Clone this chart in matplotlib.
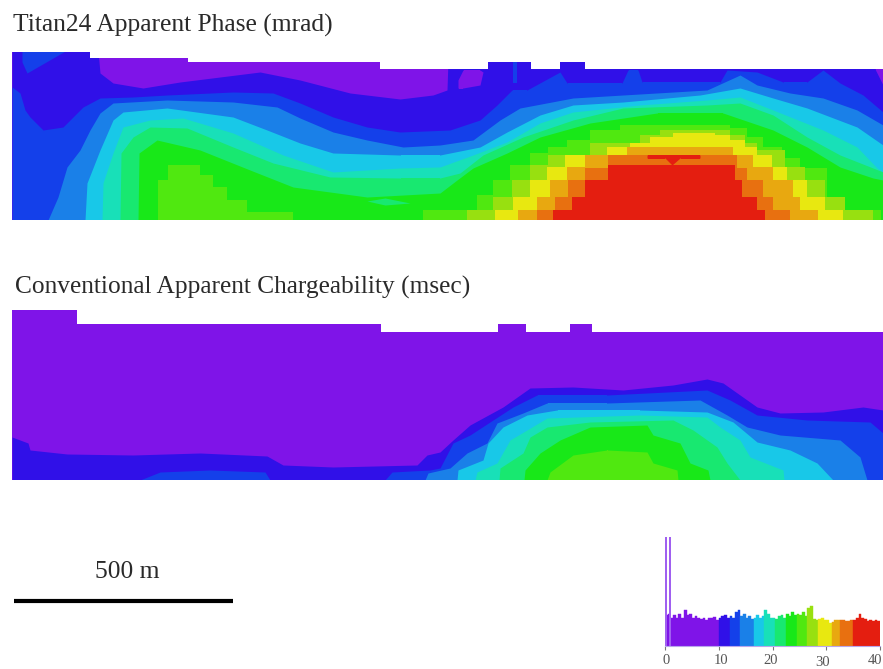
import numpy as np
import matplotlib
matplotlib.use('Agg')
import matplotlib.pyplot as plt
from matplotlib.patches import Polygon

# Colour classes, low to high (same order as the histogram)
class_colors = ['#7f14e8', '#3010e8', '#1440ea', '#1a80e8', '#18c8e8', '#18e0b8', '#18e870',
                '#18e818', '#50e810', '#98e010', '#e8e810', '#e8a810', '#e87010', '#e41e10']

# Survey outlines (pixel scale of the section, y down)
phase_edge_x = [12, 90, 188, 380, 488, 531, 560, 585, 883]
phase_edge_y = [52, 58, 62, 69, 62, 69, 62, 69]
phase_bottom = 220
charge_edge_x = [12, 77, 381, 498, 526, 570, 592, 883]
charge_edge_y = [310, 324, 332, 324, 332, 324, 332]
charge_bottom = 480

# Titan24 phase: top of each class along the line
phase_x1 = [12, 97, 100, 113, 143, 180, 220, 260, 300, 350, 400, 433, 447, 448, 883]
phase_y1 = [40, 40, 73, 83, 88, 82, 77, 72, 80, 93, 99, 95, 90, 60, 60]
phase_x2 = [12, 20, 25, 30, 43, 63, 83, 100, 133, 167, 233, 273, 300, 333, 367, 400, 450, 480, 497, 512, 527, 560, 567, 622, 628, 638, 642, 720, 727, 757, 783, 807, 823, 840, 863, 883]
phase_y2 = [87, 93, 110, 117, 130, 127, 107, 98, 97, 95, 92, 93, 103, 117, 127, 132, 130, 120, 105, 90, 90, 72, 83, 83, 70, 70, 82, 82, 70, 72, 82, 82, 70, 83, 95, 112]
phase_x3 = [12, 48, 58, 67, 80, 90, 100, 113, 167, 233, 277, 300, 333, 367, 403, 440, 473, 500, 520, 573, 623, 707, 740, 757, 790, 823, 857, 883]
phase_y3 = [220, 220, 197, 167, 150, 130, 113, 103, 100, 102, 107, 118, 132, 140, 147, 145, 140, 120, 108, 98, 95, 90, 75, 85, 93, 98, 110, 125]
phase_x4 = [12, 85, 87, 100, 113, 123, 167, 233, 267, 300, 333, 400, 440, 480, 507, 540, 573, 623, 700, 740, 773, 807, 857, 883]
phase_y4 = [220, 220, 183, 150, 120, 112, 108, 117, 130, 143, 153, 155, 155, 147, 132, 115, 105, 102, 95, 88, 98, 108, 127, 145]
phase_x5 = [12, 102, 103, 113, 123, 150, 183, 233, 283, 333, 400, 440, 473, 507, 540, 573, 640, 707, 740, 773, 823, 857, 877, 883]
phase_y5 = [220, 220, 183, 153, 127, 120, 118, 133, 155, 172, 168, 167, 155, 142, 123, 112, 105, 100, 97, 110, 130, 147, 168, 172]
phase_x6 = [12, 120, 121, 133, 150, 187, 233, 273, 330, 400, 440, 460, 483, 523, 573, 623, 707, 740, 773, 807, 840, 873, 883]
phase_y6 = [220, 220, 153, 137, 127, 128, 147, 163, 177, 178, 178, 173, 155, 137, 120, 108, 105, 103, 115, 137, 155, 168, 172]
phase_x7 = [12, 138, 139, 157, 200, 250, 293, 367, 440, 457, 473, 507, 540, 590, 657, 723, 773, 807, 840, 873, 883]
phase_y7 = [220, 220, 153, 140, 150, 170, 187, 197, 193, 180, 168, 153, 137, 123, 113, 113, 130, 147, 167, 178, 180]
# Classes 8 to 13 are blocky in the source: each y holds until the next x
phase_x8 = [12, 158, 168, 200, 213, 227, 247, 293, 423, 461, 477, 493, 510, 530, 548, 567, 590, 620, 700, 730, 747, 763, 782, 800, 827, 843, 881]
phase_y8 = [220, 180, 165, 175, 187, 200, 212, 220, 210, 210, 195, 180, 165, 153, 147, 140, 130, 125, 125, 128, 137, 147, 158, 168, 197, 210, 220]
phase_x9 = [12, 467, 493, 512, 530, 548, 590, 640, 660, 730, 745, 757, 785, 805, 825, 845, 873]
phase_y9 = [220, 210, 197, 180, 165, 155, 143, 135, 130, 135, 143, 150, 167, 180, 197, 210, 220]
phase_x10 = [12, 495, 513, 530, 547, 565, 607, 630, 650, 673, 715, 730, 745, 757, 772, 787, 807, 825, 843]
phase_y10 = [220, 210, 197, 180, 167, 155, 147, 143, 137, 133, 135, 140, 147, 155, 167, 180, 197, 210, 220]
phase_x11 = [12, 518, 537, 550, 567, 585, 627, 733, 753, 773, 793, 800, 818]
phase_y11 = [220, 210, 197, 180, 167, 155, 147, 155, 167, 180, 197, 210, 220]
phase_x12 = [12, 537, 555, 568, 585, 608, 737, 747, 763, 773, 790]
phase_y12 = [220, 210, 197, 180, 168, 155, 168, 180, 197, 210, 220]
phase_x13 = [12, 553, 572, 585, 608, 735, 742, 757, 765, 768]
phase_y13 = [220, 210, 197, 180, 165, 180, 197, 210, 220, 220]

# Chargeability: same idea, only goes up to class 8
charge_x1 = [12, 28, 30, 67, 133, 200, 267, 283, 333, 417, 427, 440, 453, 470, 503, 530, 573, 623, 673, 707, 723, 757, 780, 823, 863, 883]
charge_y1 = [437, 443, 450, 454, 455, 453, 456, 465, 467, 465, 455, 452, 440, 425, 407, 388, 387, 390, 385, 379, 383, 407, 413, 412, 407, 410]
charge_x2 = [12, 140, 160, 210, 265, 270, 385, 392, 430, 440, 453, 470, 493, 513, 537, 607, 707, 730, 757, 807, 870, 883]
charge_y2 = [480, 480, 472, 470, 472, 480, 480, 472, 470, 468, 443, 435, 420, 407, 395, 395, 390, 400, 415, 420, 422, 433]
charge_x3 = [12, 425, 428, 450, 467, 487, 497, 523, 547, 607, 700, 727, 747, 780, 840, 860, 867, 883]
charge_y3 = [480, 480, 473, 468, 453, 443, 423, 413, 403, 403, 400, 415, 427, 435, 440, 457, 480, 480]
charge_x4 = [12, 457, 458, 483, 488, 503, 527, 557, 640, 707, 733, 757, 790, 817, 833, 883]
charge_y4 = [480, 480, 470, 460, 443, 427, 415, 410, 410, 412, 422, 442, 450, 463, 480, 480]
charge_x5 = [12, 475, 477, 497, 510, 527, 547, 640, 707, 720, 740, 750, 783, 784, 883]
charge_y5 = [480, 480, 472, 463, 440, 430, 418, 415, 417, 427, 440, 457, 470, 480, 480]
charge_x6 = [12, 499, 500, 523, 530, 547, 590, 673, 693, 717, 727, 740, 883]
charge_y6 = [480, 480, 468, 453, 437, 427, 422, 420, 430, 447, 463, 480, 480]
charge_x7 = [12, 524, 525, 540, 560, 590, 647, 653, 680, 690, 708, 710, 883]
charge_y7 = [480, 480, 470, 453, 440, 427, 425, 435, 443, 463, 470, 480, 480]
charge_x8 = [12, 547, 550, 573, 607, 647, 653, 677, 678, 883]
charge_y8 = [480, 480, 472, 455, 450, 452, 463, 470, 480, 480]

# Small closed patches that do not fit a top profile: class, x, top, bottom
patch_class = [2, 2, 0, 0, 13, 6]
patch_x = [[22, 27, 67], [513, 517], [458, 463, 480, 483], [875, 883], [647, 665, 672, 680, 700], [367, 385, 410]]
patch_top = [[50, 50, 50], [60, 60], [80, 70, 70, 72], [69, 69], [155, 155, 155, 155, 155], [201, 198, 203]]
patch_bot = [[62, 73, 50], [83, 83], [88, 88, 85, 72], [69, 85], [158, 158, 165, 158, 158], [201, 205, 203]]

# Histogram of the colour classes
hist_edges = [0, 10, 12.2, 14.2, 16.3, 18.3, 20.4, 22.4, 24.6, 26.6, 28.7, 30.8, 32.6, 34.8, 40]
hist_counts = [31, 32, 28, 31, 28, 32, 28, 36, 31, 32, 28, 30, 28, 27, 28, 26, 28, 28, 29, 26,
               28, 30, 31, 28, 30, 28, 34, 36, 30, 32, 28, 30, 27, 28, 31, 28, 30, 36, 32, 28,
               28, 27, 30, 31, 28, 32, 30, 34, 31, 32, 31, 34, 30, 38, 40, 27, 26, 27, 28, 26,
               26, 23, 24, 26, 26, 26, 26, 25, 25, 26, 26, 28, 32, 28, 27, 25, 26, 25, 26, 25]
spike_x = [0.05, 0.8]
spike_counts = [109, 109]
hist_ticks = [0, 10, 20, 30, 40]
hist_label_x = [0.2, 10.4, 19.7, 29.3, 39.0]
hist_label_drop = [8, 8, 8, 10, 8]

serif = 'Liberation Serif'
text_color = '#2a2a2a'
stepped_from = 8  # first class drawn blocky


def section(ax, edge_x, edge_y, bottom, tops, stepped_from=None):
    # Outline polygon, used as clip for all the colour classes
    verts = [(edge_x[0], bottom)]
    for i, y in enumerate(edge_y):
        verts.append((edge_x[i], y))
        verts.append((edge_x[i + 1], y))
    verts.append((edge_x[-1], bottom))
    clip = Polygon(verts, closed=True, facecolor=class_colors[0], edgecolor='none')
    ax.add_patch(clip)
    for k, (x, y) in enumerate(tops):
        level = k + 1
        if stepped_from is not None and level >= stepped_from:
            # extend the last block to the end of the section
            poly = ax.fill_between(x + [edge_x[-1]], y + [y[-1]], bottom, step='post',
                                   color=class_colors[level], linewidth=0)
        else:
            poly = ax.fill_between(x, y, bottom, color=class_colors[level], linewidth=0)
        poly.set_clip_path(clip)
    return clip


fig = plt.figure(figsize=(8.83, 6.69), dpi=100)
ax = fig.add_axes([0, 0, 1, 1])
ax.set_xlim(0, 883)
ax.set_ylim(669, 0)
ax.axis('off')

phase_tops = [(phase_x1, phase_y1), (phase_x2, phase_y2), (phase_x3, phase_y3), (phase_x4, phase_y4),
              (phase_x5, phase_y5), (phase_x6, phase_y6), (phase_x7, phase_y7), (phase_x8, phase_y8),
              (phase_x9, phase_y9), (phase_x10, phase_y10), (phase_x11, phase_y11),
              (phase_x12, phase_y12), (phase_x13, phase_y13)]
charge_tops = [(charge_x1, charge_y1), (charge_x2, charge_y2), (charge_x3, charge_y3), (charge_x4, charge_y4),
               (charge_x5, charge_y5), (charge_x6, charge_y6), (charge_x7, charge_y7), (charge_x8, charge_y8)]

phase_clip = section(ax, phase_edge_x, phase_edge_y, phase_bottom, phase_tops, stepped_from)
section(ax, charge_edge_x, charge_edge_y, charge_bottom, charge_tops)

for c, x, y1, y2 in zip(patch_class, patch_x, patch_top, patch_bot):
    poly = ax.fill_between(x, y1, y2, color=class_colors[c], linewidth=0)
    poly.set_clip_path(phase_clip)

# Titles and scale bar
ax.text(13, 32, 'Titan24 Apparent Phase (mrad)', family=serif, fontsize=18.4, color=text_color)
ax.text(15, 294, 'Conventional Apparent Chargeability (msec)', family=serif, fontsize=18.3, color=text_color)
ax.text(127, 578, '500 m', family=serif, fontsize=18.4, color=text_color, ha='center')
ax.plot([14, 233], [601, 601], color='black', linewidth=3, solid_capstyle='butt')

# Histogram inset
hax = fig.add_axes([665 / 883, (669 - 646) / 669, 215 / 883, 109 / 669])
hax.set_xlim(0, 40)
hax.set_ylim(0, 109)
bin_x = np.arange(len(hist_counts)) * 0.5
bin_class = np.digitize(bin_x + 0.25, hist_edges) - 1
hax.bar(bin_x, hist_counts, width=0.5, align='edge', linewidth=0.3,
        color=[class_colors[k] for k in bin_class], edgecolor=[class_colors[k] for k in bin_class])
hax.bar(spike_x, spike_counts, width=0.3, align='edge', color='#a060f0', linewidth=0)
for s in ['top', 'left', 'right']:
    hax.spines[s].set_visible(False)
hax.spines['bottom'].set_color('#b9a6ec')
hax.patch.set_alpha(0)
hax.set_yticks([])
hax.set_xticks(hist_ticks)
hax.set_xticklabels([])
hax.tick_params(axis='x', length=3, width=0.8, color='#777777')
for xl, t, d in zip(hist_label_x, hist_ticks, hist_label_drop):
    hax.text(xl, -d, str(t), family=serif, fontsize=10.5, color='#555555', ha='center', va='top', clip_on=False)

fig.savefig('out.png', dpi=100)
